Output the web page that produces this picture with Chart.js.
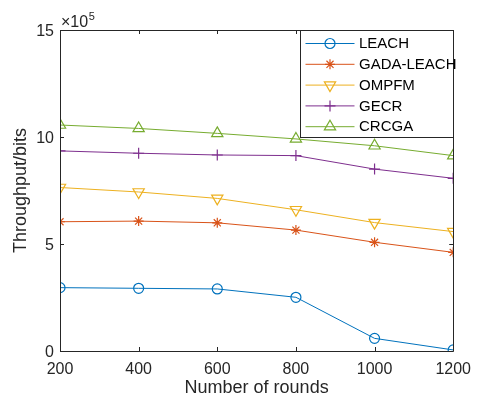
<!DOCTYPE html>
<html>
<head>
<meta charset="utf-8">
<script src="https://cdn.jsdelivr.net/npm/chart.js@4/dist/chart.umd.min.js"></script>
<style>
html,body{margin:0;padding:0;background:#fff;}
#wrap{width:480px;height:400px;position:relative;}
</style>
</head>
<body>
<div id="wrap"><canvas id="c" width="480" height="400"></canvas></div>
<script>
// Data (values in units of 10^5 bits)
const rounds = [200, 400, 600, 800, 1000, 1200];
const leach = [2.96, 2.93, 2.90, 2.51, 0.59, 0.05];
const gadaLeach = [6.04, 6.07, 5.99, 5.65, 5.08, 4.61];
const ompfm = [7.64, 7.43, 7.13, 6.60, 6.00, 5.58];
const gecr = [9.35, 9.24, 9.16, 9.13, 8.50, 8.07];
const crcga = [10.56, 10.40, 10.17, 9.91, 9.59, 9.13];
const seriesNames = ['LEACH', 'GADA-LEACH', 'OMPFM', 'GECR', 'CRCGA'];
const xTicks = [200, 400, 600, 800, 1000, 1200];
const yTicks = [0, 5, 10, 15];

const colors = ['#0072BD', '#D95319', '#EDB120', '#7E2F8E', '#77AC30'];
const styles = [
  {pointStyle: 'circle', radius: 5, rotation: 0},
  {pointStyle: 'star', radius: 5, rotation: 0},
  {pointStyle: 'triangle', radius: 6.5, rotation: 180},
  {pointStyle: 'cross', radius: 5.5, rotation: 0},
  {pointStyle: 'triangle', radius: 6.5, rotation: 0}
];
const allSeries = [leach, gadaLeach, ompfm, gecr, crcga];
const AX = '#262626';
const FONT = "'Liberation Sans', Arial, Helvetica, sans-serif";

const datasets = allSeries.map((vals, i) => ({
  label: seriesNames[i],
  data: rounds.map((r, j) => ({x: r, y: vals[j]})),
  borderColor: colors[i],
  backgroundColor: 'rgba(0,0,0,0)',
  borderWidth: 1,
  pointStyle: styles[i].pointStyle,
  pointRadius: styles[i].radius,
  pointRotation: styles[i].rotation,
  pointBorderWidth: 1.2,
  pointBorderColor: colors[i],
  pointBackgroundColor: 'rgba(0,0,0,0)',
  tension: 0
}));

const frame = {
  id: 'frame',
  afterDatasetsDraw(chart) {
    const ctx = chart.ctx, a = chart.chartArea;
    const xs = chart.scales.x, ys = chart.scales.y;
    ctx.save();
    ctx.strokeStyle = AX;
    ctx.lineWidth = 1;
    ctx.beginPath();
    ctx.rect(Math.round(a.left) + 0.5, Math.round(a.top) + 0.5, Math.round(a.right - a.left), Math.round(a.bottom - a.top));
    ctx.stroke();
    const tl = 4;
    ctx.beginPath();
    xTicks.forEach(v => {
      const px = Math.round(xs.getPixelForValue(v)) + 0.5;
      ctx.moveTo(px, a.bottom); ctx.lineTo(px, a.bottom - tl);
      ctx.moveTo(px, a.top); ctx.lineTo(px, a.top + tl);
    });
    yTicks.forEach(v => {
      const py = Math.round(ys.getPixelForValue(v)) + 0.5;
      ctx.moveTo(a.left, py); ctx.lineTo(a.left + tl, py);
      ctx.moveTo(a.right, py); ctx.lineTo(a.right - tl, py);
    });
    ctx.stroke();
    // exponent label
    ctx.fillStyle = AX;
    ctx.textBaseline = 'alphabetic';
    ctx.textAlign = 'left';
    ctx.font = '16px ' + FONT;
    const bx = a.left + 1, by = a.top - 3;
    ctx.fillText('\u00d710', bx, by);
    const w = ctx.measureText('\u00d710').width;
    ctx.font = '11px ' + FONT;
    ctx.fillText('5', bx + w + 0.5, by - 7);
    ctx.restore();
  },
  afterDraw(chart) {
    const ctx = chart.ctx, a = chart.chartArea;
    const lx0 = 300, ly0 = Math.round(a.top), lw = Math.round(a.right) - 300, lh = 107;
    ctx.save();
    ctx.fillStyle = '#fff';
    ctx.fillRect(lx0, ly0, lw, lh);
    ctx.strokeStyle = AX;
    ctx.lineWidth = 1;
    ctx.strokeRect(lx0 + 0.5, ly0 + 0.5, lw, lh);
    chart.data.datasets.forEach((ds, i) => {
      const y = ly0 + 13.5 + i * 20.8;
      ctx.strokeStyle = ds.borderColor;
      ctx.lineWidth = 1;
      ctx.beginPath();
      ctx.moveTo(305.5, y); ctx.lineTo(354.5, y);
      ctx.stroke();
      ctx.lineWidth = ds.pointBorderWidth;
      ctx.strokeStyle = ds.borderColor;
      ctx.fillStyle = 'rgba(0,0,0,0)';
      Chart.helpers.drawPoint(ctx, {
        pointStyle: ds.pointStyle, radius: ds.pointRadius, rotation: ds.pointRotation, borderWidth: ds.pointBorderWidth
      }, 330, y);
      ctx.fillStyle = '#000';
      ctx.font = '15px ' + FONT;
      ctx.textBaseline = 'middle';
      ctx.textAlign = 'left';
      ctx.fillText(ds.label, 359, y + 0.5);
    });
    ctx.restore();
  }
};

new Chart(document.getElementById('c'), {
  type: 'line',
  data: {datasets},
  options: {
    responsive: false,
    animation: false,
    devicePixelRatio: 1,
    layout: {padding: {left: 0, top: 30, right: 18, bottom: 0}},
    plugins: {legend: {display: false}, tooltip: {enabled: false}},
    scales: {
      x: {
        type: 'linear', min: 200, max: 1200,
        afterBuildTicks(s) { s.ticks = xTicks.map(v => ({value: v})); },
        afterFit(s) { s.height = 49; },
        grid: {display: false, drawTicks: false},
        border: {display: false},
        ticks: {color: AX, font: {family: FONT, size: 16}, padding: 9, maxRotation: 0, callback: v => String(v)},
        title: {display: true, text: 'Number of rounds', color: AX, font: {family: FONT, size: 18}, padding: {top: 0, bottom: 1}}
      },
      y: {
        type: 'linear', min: 0, max: 15,
        afterBuildTicks(s) { s.ticks = yTicks.map(v => ({value: v})); },
        afterFit(s) { s.width = 60; },
        grid: {display: false, drawTicks: false},
        border: {display: false},
        ticks: {color: AX, font: {family: FONT, size: 16}, padding: 6, labelOffset: 1.5, callback: v => String(v)},
        title: {display: true, text: 'Throughput/bits', color: AX, font: {family: FONT, size: 18}, padding: {top: 10, bottom: 0}}
      }
    }
  },
  plugins: [frame]
});
</script>
</body>
</html>
